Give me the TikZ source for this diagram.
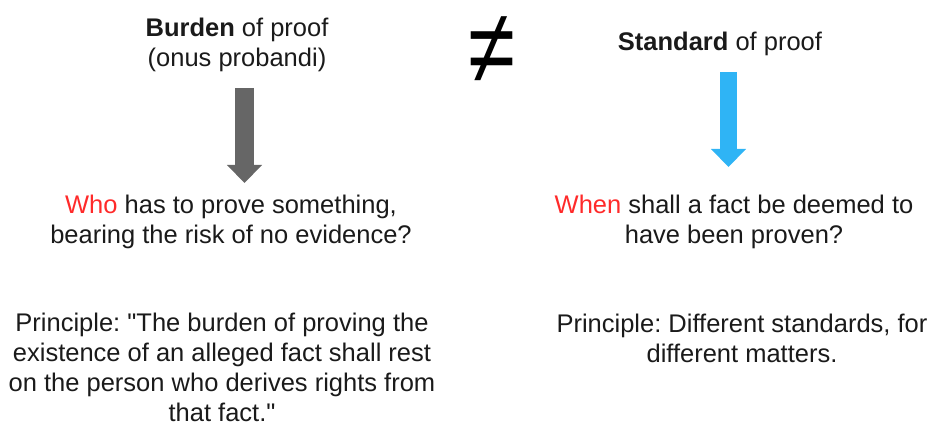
\documentclass[tikz,border=0pt]{standalone}
\usepackage{fontspec}
\setmainfont{Liberation Sans}
\usetikzlibrary{arrows.meta}
\definecolor{arrgray}{HTML}{666666}
\definecolor{arrblue}{HTML}{2FB4F5}
\definecolor{qred}{HTML}{FF2A2A}
\definecolor{txt}{HTML}{1A1A1A}
\tikzset{
  lbl/.style={inner sep=0pt, align=center, text=txt, font=\fontsize{25.5}{30}\selectfont\frenchspacing},
  blockarrow/.style={line width=#1, -{Triangle[width=34pt,length=18pt]}},
}
\begin{document}
\begin{tikzpicture}[x=1pt,y=-1pt]
\useasboundingbox (0,0) rectangle (930,427);
\node[lbl] (burden) at (237,45) {\textbf{Burden} of proof\\(onus probandi)};
\node[lbl] (standard) at (720,44) {\textbf{Standard} of proof};
\node[inner sep=0pt, text=black, font=\fontsize{80}{80}\selectfont, xscale=1.07, yscale=1.32] (neq) at (492,50) {≠};
\node[lbl] (who) at (231,222) {\textcolor{qred}{Who} has to prove something,\\bearing the risk of no evidence?};
\node[lbl] (when) at (734,222) {\textcolor{qred}{When} shall a fact be deemed to\\have been proven?};
\node[lbl] (p1) at (222,367) {Principle: \textquotedbl The burden of proving the\\existence of an alleged fact shall rest\\on the person who derives rights from\\that fact.\textquotedbl};
\node[lbl] (p2) at (742,338) {Principle: Different standards, for\\different matters.};
\coordinate (g1) at (244.5,88);
\coordinate (g2) at (244.5,183);
\coordinate (b1) at (728.5,72);
\coordinate (b2) at (728.5,167);
\draw[blockarrow=19pt, arrgray] (g1) -- (g2);
\draw[blockarrow=17pt, arrblue] (b1) -- (b2);
\end{tikzpicture}
\end{document}
